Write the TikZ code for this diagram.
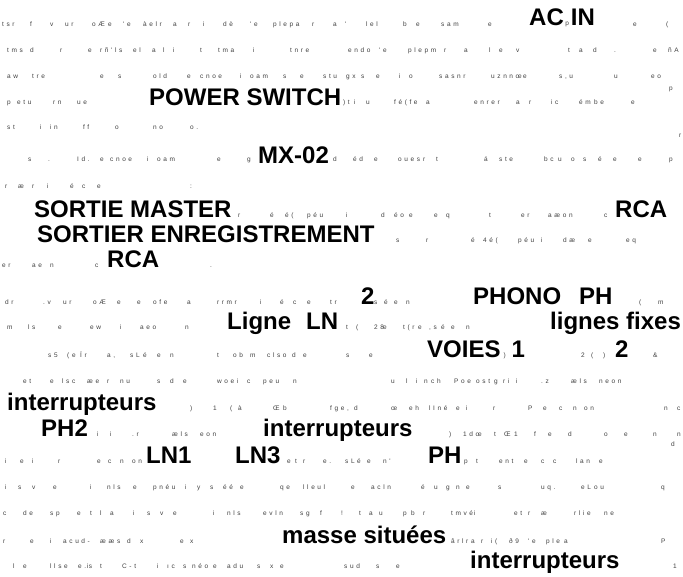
\documentclass[tikz,border=0pt]{standalone}
\usepackage{fontspec}
\setmainfont{Liberation Sans}
\newfontfamily\petit[LetterSpace=40]{Liberation Sans}
\newcommand\mini{\fontsize{6.5}{7}\selectfont\mdseries\color{black!75}}

\begin{document}
\begin{tikzpicture}[
    x=1pt, y=-1pt,
    label/.style={font=\bfseries\fontsize{24}{24}\selectfont, text=black,
        anchor=base west, inner sep=0pt},
    txt/.style={font=\fontsize{6.5}{7}\selectfont\petit, text=black!75,
        anchor=base west, inner sep=0pt}
]
    \useasboundingbox (0,0) rectangle (683,576);

    % big labels
    \node[label] (acin) at (529,25) {AC\hspace{1.5pt}{\mini p}\hspace{2pt}IN};
    \node[label] (power) at (149,105) {POWER SWITCH};
    \node[label] (mx) at (258,163) {MX-02};
    \node[label] (master) at (34,217) {SORTIE MASTER};
    \node[label] (rcaa) at (615,217) {RCA};
    \node[label] (enreg) at (37,242) {SORTIER ENREGISTREMENT};
    \node[label] (rcab) at (107,267) {RCA};
    \node[label] (deuxa) at (361,304) {2};
    \node[label] (phono) at (473,304) {PHONO};
    \node[label] (phonoph) at (579,304) {PH};
    \node[label] (ligne) at (227,329) {Ligne};
    \node[label] (ligneln) at (306,329) {LN};
    \node[label] (fixes) at (550,329) {lignes fixes};
    \node[label] (voies) at (427,357) {VOIES\hspace{3pt}{\mini )}\hspace{6pt}1};
    \node[label] (deuxb) at (615,357) {2};
    \node[label] (intera) at (7,410) {interrupteurs};
    \node[label] (phdeux) at (41,436) {PH2};
    \node[label] (interb) at (263,436) {interrupteurs};
    \node[label] (lnun) at (146,463) {LN1};
    \node[label] (lntrois) at (235,463) {LN3};
    \node[label] (ph) at (428,463) {PH};
    \node[label] (masse) at (282,543) {masse situées};
    \node[label] (interc) at (470,568) {interrupteurs};

    % small scattered letters, row by row
    \foreach \x/\s [count=\i] in {2/tsr, 30/f, 50/v, 65/ur, 92/oÆ, 108/e, 123/'e, 143/àelr,
        173/a, 188/r, 203/i, 223/dè, 250/'e, 273/plepa, 312/r, 333/a, 345/', 366/lel,
        403/b, 416/e, 441/sam, 488/e, 633/e, 666/(}
        \node[txt] (ra\i) at (\x,26) {\s};
    \foreach \x/\s [count=\i] in {7/tms, 30/d, 60/r, 88/e, 100/rñ'ls, 133/el, 152/a, 163/l,
        173/i, 200/t, 218/tma, 253/i, 290/tnre, 348/endo, 379/'e, 408/plepm, 444/r, 464/a,
        489/l, 499/e, 516/v, 568/t, 579/a, 593/d, 614/., 653/e, 668/ñA}
        \node[txt] (rb\i) at (\x,52) {\s};
    \foreach \x/\s [count=\i] in {7/aw, 32/tre, 100/e, 118/s, 153/old, 187/e, 200/cnoe,
        240/i, 250/oam, 283/s, 300/e, 323/stu, 346/gx, 361/s, 376/e, 399/i, 409/o,
        439/sasnr, 491/uznnœ, 523/e, 559/{s,u}, 614/u, 651/eo}
        \node[txt] (rc\i) at (\x,78) {\s};
    \node[txt] (rcp) at (669,90) {p};
    \foreach \x/\s [count=\i] in {7/p, 17/etu, 53/rn, 77/ue, 343/)t, 354/i, 366/u,
        394/fé(fe, 426/a, 474/enrer, 516/a, 529/r, 551/ic, 579/ém, 594/be, 631/e}
        \node[txt] (rd\i) at (\x,104) {\s};
    \foreach \x/\s [count=\i] in {7/st, 40/i, 50/in, 83/ff, 115/o, 153/no, 190/o.}
        \node[txt] (re\i) at (\x,129) {\s};
    \node[txt] (rer) at (679,137) {r};
    \foreach \x/\s [count=\i] in {28/s, 48/., 77/Id., 100/e, 110/cnoe, 147/i, 157/oam,
        217/e, 247/g, 333/d, 353/éd, 374/e, 398/oues, 423/r, 436/t, 484/á, 499/ste,
        544/bc, 558/u, 571/o, 583/s, 598/é, 613/e, 638/e, 669/p}
        \node[txt] (rf\i) at (\x,161) {\s};
    \foreach \x/\s [count=\i] in {5/r, 18/æ, 32/r, 47/i, 70/é, 82/c, 97/e, 190/:}
        \node[txt] (rg\i) at (\x,188) {\s};
    \foreach \x/\s [count=\i] in {238/r, 270/é, 285/é(, 307/péu, 346/i, 381/d, 394/éo,
        409/e, 434/e, 446/q, 489/t, 521/er, 548/aæon, 604/c}
        \node[txt] (rh\i) at (\x,217) {\s};
    \foreach \x/\s [count=\i] in {396/s, 426/r, 471/é, 483/4é(, 518/péu, 541/i, 563/dæ,
        588/e, 626/eq}
        \node[txt] (ri\i) at (\x,242) {\s};
    \foreach \x/\s [count=\i] in {2/er, 32/ae, 50/n, 95/c, 210/.}
        \node[txt] (rj\i) at (\x,267) {\s};
    \foreach \x/\s [count=\i] in {5/dr, 43/.v, 63/ur, 93/oÆ, 117/e, 137/e, 153/ofe,
        187/a, 217/rrmr, 260/i, 280/é, 293/c, 307/e, 330/tr, 374/s, 384/é, 394/e,
        406/n, 639/(, 658/m}
        \node[txt] (rk\i) at (\x,304) {\s};
    \foreach \x/\s [count=\i] in {7/m, 28/ls, 58/e, 90/ew, 120/i, 140/aeo, 185/n, 346/t,
        356/(, 374/28, 383/e, 403/t(r, 418/e, 429/{,s}, 441/é, 451/e, 466/n}
        \node[txt] (rl\i) at (\x,329) {\s};
    \foreach \x/\s [count=\i] in {48/s5, 67/(, 72/e, 80/Ïr, 107/{a,}, 130/sL, 143/é,
        157/e, 170/n, 217/t, 233/ob, 250/m, 267/clso, 292/d, 303/e, 346/s, 369/e,
        581/2, 591/(, 603/), 653/\&}
        \node[txt] (rm\i) at (\x,357) {\s};
    \foreach \x/\s [count=\i] in {23/et, 50/e, 62/lsc, 87/æe, 107/r, 120/nu, 157/s,
        170/d, 183/e, 217/woe, 237/i, 247/c, 263/peu, 293/n, 391/u, 406/l, 416/i,
        424/n, 431/ch, 454/Poe, 476/ost, 494/g, 503/ri, 516/i, 541/.z, 571/æls, 599/neon}
        \node[txt] (rn\i) at (\x,383) {\s};
    \foreach \x/\s [count=\i] in {190/), 213/1, 230/(, 238/à, 273/Œ, 283/b, 330/{fge,},
        354/d, 391/œ, 409/eh, 429/lIné, 456/e, 466/i, 493/r, 528/P, 543/e, 559/c,
        573/n, 584/on, 664/n, 677/c}
        \node[txt] (ro\i) at (\x,410) {\s};
    \foreach \x/\s [count=\i] in {97/i, 110/i, 132/.r, 172/æls, 200/eon, 449/), 463/1dœ,
        494/t, 504/Œ, 514/1, 534/f, 548/e, 568/d, 604/o, 624/e, 653/n, 677/n}
        \node[txt] (rp\i) at (\x,436) {\s};
    \node[txt] (rpd) at (671,446) {d};
    \foreach \x/\s [count=\i] in {5/i, 20/e, 32/i, 58/r, 97/e, 108/c, 120/n, 132/on,
        287/e, 295/t, 303/r, 323/e., 345/sL, 357/é, 367/e, 383/n', 464/p, 476/t,
        499/ent, 524/e, 541/c, 553/c, 576/lan, 599/e}
        \node[txt] (rq\i) at (\x,463) {\s};
    \foreach \x/\s [count=\i] in {5/i, 18/s, 32/v, 53/e, 90/i, 107/nls, 133/e, 153/pnéu,
        185/i, 197/y, 210/s, 223/éé, 240/e, 280/qe, 303/lleul, 351/e, 371/acln, 421/é,
        434/u, 446/g, 456/n, 466/e, 498/s, 541/uq., 581/eL, 594/ou, 661/q}
        \node[txt] (rr\i) at (\x,489) {\s};
    \foreach \x/\s [count=\i] in {3/c, 23/de, 50/sp, 77/e, 90/t, 100/l, 110/a, 133/i,
        147/s, 160/v, 173/e, 213/i, 227/nls, 263/evln, 300/sg, 320/f, 341/!, 359/t,
        369/a, 379/u, 403/p, 411/b, 423/r, 451/tmvé, 474/i, 514/et, 528/r, 541/æ,
        574/rlie, 604/ne}
        \node[txt] (rs\i) at (\x,515) {\s};
    \foreach \x/\s [count=\i] in {3/r, 30/e, 50/i, 63/acud-, 100/ææ, 117/s, 127/d,
        140/x, 180/e, 190/x, 451/ârlr, 471/a, 481/r, 491/i(, 509/ð9, 528/'e, 546/ple,
        564/a, 661/P}
        \node[txt] (rt\i) at (\x,543) {\s};
    \foreach \x/\s [count=\i] in {13/l, 23/e, 50/llse, 78/e.s, 87/i, 100/t, 122/C-t,
        157/i, 167/ıc, 183/s, 192/néo, 213/e, 227/adu, 257/s, 270/x, 280/e, 344/sud,
        376/s, 396/e, 673/1}
        \node[txt] (ru\i) at (\x,568) {\s};
\end{tikzpicture}
\end{document}
